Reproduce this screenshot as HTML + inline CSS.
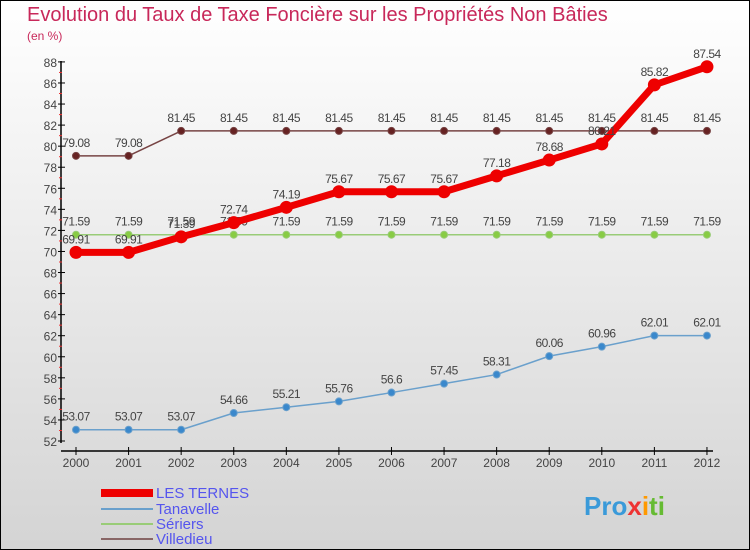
<!DOCTYPE html>
<html><head><meta charset="utf-8"><style>
body{margin:0;}
#wrap{position:relative;width:748px;height:548px;border:1px solid #000;background:linear-gradient(#ffffff,#d4d4d4);font-family:"Liberation Sans",sans-serif;overflow:hidden}
.t{position:absolute;left:26px;top:3px;font-size:20px;color:#c8285a}
.s{position:absolute;left:26px;top:28px;font-size:12px;color:#c8285a}
.leg{position:absolute;left:155px;font-size:15px;color:#5555ee;line-height:15px}
.lg{position:absolute;left:100px;width:52px}
</style></head><body>
<div id="wrap">
<div class="t">Evolution du Taux de Taxe Foncière sur les Propriétés Non Bâties</div>
<div class="s">(en %)</div>
<svg id="svg" width="750" height="550" style="position:absolute;left:0;top:0"></svg>
<div class="lg" style="top:488px;height:8px;background:#e00"></div>
<div class="leg" style="top:485px">LES TERNES</div>
<div class="lg" style="top:507px;height:2px;background:#6aa0cc"></div>
<div class="leg" style="top:501px">Tanavelle</div>
<div class="lg" style="top:522px;height:2px;background:#99cc77"></div>
<div class="leg" style="top:516px">Sériers</div>
<div class="lg" style="top:537px;height:2px;background:#886666"></div>
<div class="leg" style="top:531px">Villedieu</div>
<div style="position:absolute;left:583px;top:490px;font-size:26px;font-weight:bold;color:#3a9ad9">Pro<span style="color:#e33">x</span><span style="color:#f90">i</span><span style="color:#6b3">ti</span></div>
</div>
<script>
const years=[2000,2001,2002,2003,2004,2005,2006,2007,2008,2009,2010,2011,2012];
const yTicks=[52,54,56,58,60,62,64,66,68,70,72,74,76,78,80,82,84,86,88];
const ternes=[69.91,69.91,71.39,72.74,74.19,75.67,75.67,75.67,77.18,78.68,80.21,85.82,87.54];
const tanavelle=[53.07,53.07,53.07,54.66,55.21,55.76,56.6,57.45,58.31,60.06,60.96,62.01,62.01];
const seriers=[71.59,71.59,71.59,71.59,71.59,71.59,71.59,71.59,71.59,71.59,71.59,71.59,71.59];
const villedieu=[79.08,79.08,81.45,81.45,81.45,81.45,81.45,81.45,81.45,81.45,81.45,81.45,81.45];
const X=i=>75+i*52.58, Y=v=>440-(v-52)*10.53;
const svg=document.getElementById('svg'),NS='http://www.w3.org/2000/svg';
function mk(t,a,p){const e=document.createElementNS(NS,t);for(const k in a)e.setAttribute(k,a[k]);(p||svg).appendChild(e);return e;}
let ax=mk('line',{x1:60,y1:60,x2:60,y2:442,stroke:'#000','stroke-width':1.5});

let bx=mk('line',{x1:60,y1:450,x2:712,y2:450,stroke:'#000','stroke-width':1.5});

yTicks.forEach(v=>{mk('line',{x1:57,x2:64,y1:Y(v),y2:Y(v),stroke:'#000'});
if(v<88)mk('line',{x1:58,x2:61,y1:Y(v+1),y2:Y(v+1),stroke:'#e33'});
const t=mk('text',{x:56,y:Y(v)+5,'text-anchor':'end','font-size':12,fill:'#444'});t.textContent=v;
});
years.forEach((y,i)=>{mk('line',{x1:X(i),x2:X(i),y1:446,y2:454,stroke:'#000'});
const t=mk('text',{x:X(i),y:466,'text-anchor':'middle','font-size':12,fill:'#444'});t.textContent=y;
});
function series(d,col,w,r,name,dot){
const l=mk('polyline',{points:d.map((v,i)=>X(i)+','+Y(v)).join(' '),fill:'none',stroke:col,'stroke-width':w,'stroke-linejoin':'round'});

d.forEach((v,i)=>{const c=mk('circle',{cx:X(i),cy:Y(v),r:r,fill:dot,stroke:col,'stroke-width':1});

const t=mk('text',{x:X(i),y:Y(v)-9,'text-anchor':'middle','font-size':12,fill:'#444','letter-spacing':'-0.5'});t.textContent=v;
});}
series(villedieu,'#774444',1.5,3.5,'villedieu','#662222');
series(seriers,'#99cc77',1.5,3.5,'seriers','#88cc44');
series(tanavelle,'#6aa0cc',1.5,3.5,'tanavelle','#3a88cc');
series(ternes,'#ee0000',7,6,'les-ternes','#ee0000');
</script>
</body></html>
